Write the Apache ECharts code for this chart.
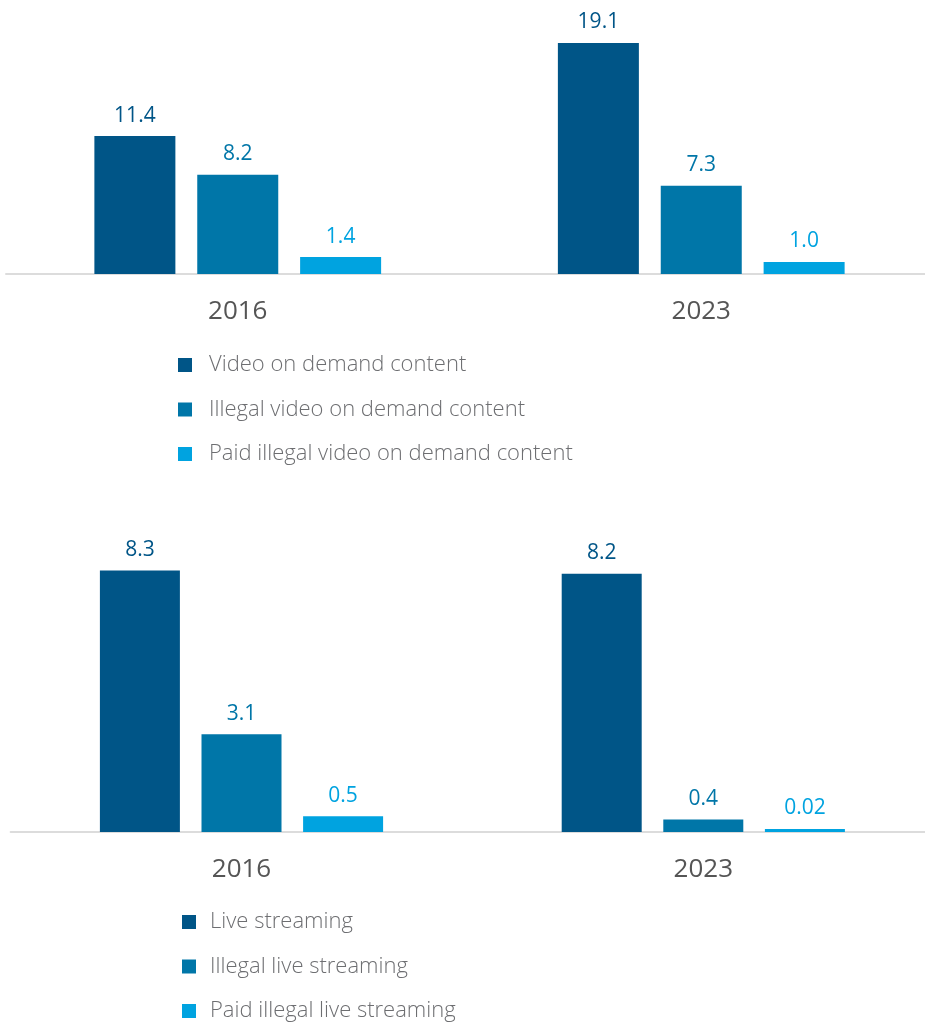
<!DOCTYPE html>
<html>
<head>
<meta charset="utf-8">
<title>Video on demand and live streaming</title>
<script src="https://cdn.jsdelivr.net/npm/echarts@6/dist/echarts.min.js"></script>
<style>
  html, body { margin: 0; padding: 0; background: #ffffff; overflow: hidden; }
  /* canvas runs a little past the window so the baseline reaches the edge */
  #chart { width: 940px; height: 1060px; }
</style>
</head>
<body>
<div id="chart"></div>
<script>
// Years shown on both panels
const years = ['2016', '2023'];

// Upper panel: video on demand
const vodNames = ['Video on demand content', 'Illegal video on demand content', 'Paid illegal video on demand content'];
const vodTotal = [11.4, 19.1];
const vodIllegal = [8.2, 7.3];
const vodPaidIllegal = [1.4, 1.0];

// Lower panel: live streaming
const liveNames = ['Live streaming', 'Illegal live streaming', 'Paid illegal live streaming'];
const liveTotal = [8.3, 8.2];
const liveIllegal = [3.1, 0.4];
const livePaidIllegal = [0.5, 0.02];

const colors = ['#005587', '#0076A8', '#00A3E0'];
const FONT = '"Open Sans", "Noto Sans", sans-serif';

function fmt(v) {
  return v < 0.1 ? v.toFixed(2) : v.toFixed(1);
}

function barSeries(name, data, idx, axisIdx, width) {
  return {
    name: name,
    type: 'bar',
    xAxisIndex: axisIdx,
    yAxisIndex: axisIdx,
    data: data,
    barWidth: width,
    barGap: '27%',
    barMinHeight: 3,
    itemStyle: { color: colors[idx] },
    label: {
      show: true,
      position: 'top',
      distance: 10,
      color: colors[idx],
      fontFamily: FONT,
      fontSize: 21,
      formatter: p => fmt(p.value)
    }
  };
}

function catAxis(gridIndex) {
  return {
    type: 'category',
    gridIndex: gridIndex,
    data: years,
    axisLine: { show: true, lineStyle: { color: '#dcdcdc', width: 2 } },
    axisTick: { show: false },
    axisLabel: { color: '#555555', fontFamily: FONT, fontSize: 26, margin: 25 }
  };
}

function valAxis(gridIndex, max) {
  return {
    type: 'value',
    gridIndex: gridIndex,
    min: 0,
    max: max,
    show: false,
    splitLine: { show: false }
  };
}

function legendFor(names, left, top, textGap) {
  return {
    data: names,
    orient: 'vertical',
    left: left,
    top: top,
    padding: 0,
    icon: 'rect',
    itemWidth: 14,
    itemHeight: 14,
    itemGap: 20.5,
    textStyle: {
      color: '#6d6e71',
      fontFamily: FONT,
      fontWeight: 300,
      fontSize: 22,
      lineHeight: 24,
      padding: [0, 0, 0, textGap]
    }
  };
}

const chart = echarts.init(document.getElementById('chart'), null, { renderer: 'canvas' });

chart.setOption({
  animation: false,
  backgroundColor: '#ffffff',
  grid: [
    { left: 6, width: 927, top: 32, height: 242 },
    { left: 10.6, width: 923.6, top: 548.5, height: 283.5 }
  ],
  xAxis: [catAxis(0), catAxis(1)],
  yAxis: [valAxis(0, 20), valAxis(1, 9)],
  legend: [
    legendFor(vodNames, 178, 353, 12),
    legendFor(liveNames, 182, 910, 9)
  ],
  series: [
    barSeries(vodNames[0], vodTotal, 0, 0, 81),
    barSeries(vodNames[1], vodIllegal, 1, 0, 81),
    barSeries(vodNames[2], vodPaidIllegal, 2, 0, 81),
    barSeries(liveNames[0], liveTotal, 0, 1, 80),
    barSeries(liveNames[1], liveIllegal, 1, 1, 80),
    barSeries(liveNames[2], livePaidIllegal, 2, 1, 80)
  ]
});
</script>
</body>
</html>
